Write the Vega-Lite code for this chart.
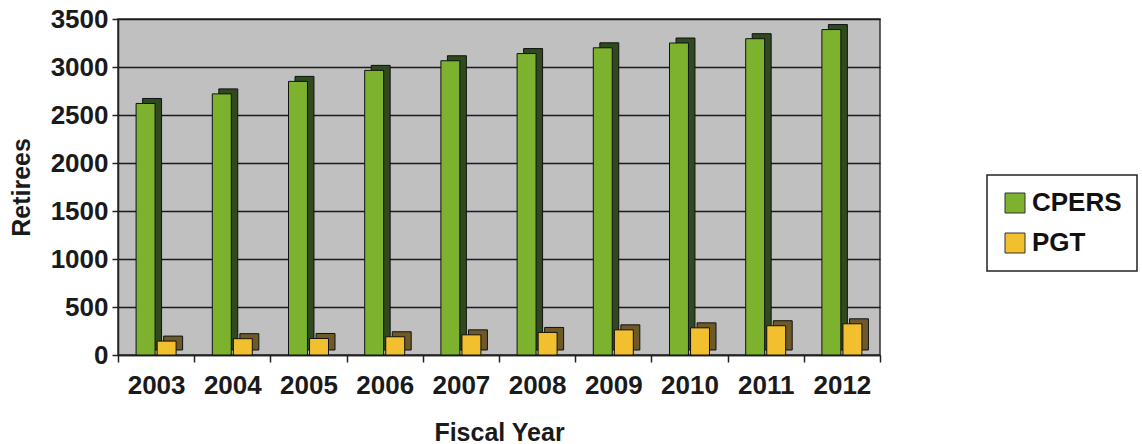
{
  "$schema": "https://vega.github.io/schema/vega-lite/v6.json",
  "width": 762,
  "height": 336,
  "autosize": "none",
  "padding": {"left": 118, "top": 19, "right": 262, "bottom": 89},
  "background": "white",
  "config": {
    "font": "Liberation Sans",
    "view": {"fill": "#c0c0c0", "stroke": "#333333", "strokeWidth": 1.5},
    "axis": {
      "labelFont": "Liberation Sans",
      "labelFontWeight": "bold",
      "labelFontSize": 26,
      "labelColor": "#1a1a1a",
      "titleFont": "Liberation Sans",
      "titleFontWeight": "bold",
      "titleFontSize": 25,
      "titleColor": "#1a1a1a",
      "domainColor": "#222222",
      "domainWidth": 1.5,
      "tickColor": "#222222",
      "tickWidth": 1.5
    }
  },
  "data": {
    "values": [
      {"year": "2003", "series": "CPERS", "value": 2620},
      {"year": "2004", "series": "CPERS", "value": 2720},
      {"year": "2005", "series": "CPERS", "value": 2850},
      {"year": "2006", "series": "CPERS", "value": 2965},
      {"year": "2007", "series": "CPERS", "value": 3065},
      {"year": "2008", "series": "CPERS", "value": 3140},
      {"year": "2009", "series": "CPERS", "value": 3200},
      {"year": "2010", "series": "CPERS", "value": 3250},
      {"year": "2011", "series": "CPERS", "value": 3295},
      {"year": "2012", "series": "CPERS", "value": 3390},
      {"year": "2003", "series": "PGT", "value": 145},
      {"year": "2004", "series": "PGT", "value": 170},
      {"year": "2005", "series": "PGT", "value": 172},
      {"year": "2006", "series": "PGT", "value": 190},
      {"year": "2007", "series": "PGT", "value": 210},
      {"year": "2008", "series": "PGT", "value": 235},
      {"year": "2009", "series": "PGT", "value": 262},
      {"year": "2010", "series": "PGT", "value": 283},
      {"year": "2011", "series": "PGT", "value": 305},
      {"year": "2012", "series": "PGT", "value": 325}
    ]
  },
  "encoding": {
    "x": {
      "field": "year",
      "type": "nominal",
      "scale": {"paddingInner": 0, "paddingOuter": 0},
      "axis": {
        "title": "Fiscal Year",
        "labelAngle": 0,
        "tickBand": "extent",
        "tickSize": 7,
        "labelPadding": 10,
        "titlePadding": 22
      }
    },
    "y": {
      "field": "value",
      "type": "quantitative",
      "scale": {"domain": [0, 3500], "nice": false},
      "axis": {
        "title": "Retirees",
        "format": "d",
        "values": [0, 500, 1000, 1500, 2000, 2500, 3000, 3500],
        "grid": true,
        "gridColor": "#1a1a1a",
        "gridWidth": 1.5,
        "tickSize": 6,
        "labelPadding": 4,
        "titlePadding": 16
      }
    }
  },
  "layer": [
    {
      "mark": {"type": "bar", "yOffset": -5, "stroke": "#111111", "strokeWidth": 1},
      "encoding": {
        "xOffset": {
          "field": "series",
          "type": "nominal",
          "scale": {"paddingInner": 0.1, "paddingOuter": 0.86, "align": 0.68}
        },
        "color": {
          "field": "series",
          "type": "nominal",
          "scale": {"domain": ["CPERS", "PGT"], "range": ["#2f4a1f", "#6e5a28"]},
          "legend": null
        }
      }
    },
    {
      "mark": {"type": "bar", "stroke": "#111111", "strokeWidth": 1},
      "encoding": {
        "xOffset": {
          "field": "series",
          "type": "nominal",
          "scale": {"paddingInner": 0.1, "paddingOuter": 0.86, "align": 0.5}
        },
        "color": {
          "field": "series",
          "type": "nominal",
          "scale": {"domain": ["CPERS", "PGT"], "range": ["#7db22e", "#f2bf2e"]},
          "legend": {
            "title": null,
            "orient": "none",
            "legendX": 869,
            "legendY": 156,
            "symbolType": "square",
            "symbolSize": 400,
            "symbolStrokeColor": "#333333",
            "symbolStrokeWidth": 1,
            "labelFont": "Liberation Sans",
            "labelFontSize": 26,
            "labelFontWeight": "bold",
            "labelColor": "#111111",
            "labelOffset": 4,
            "rowPadding": 14,
            "padding": 15,
            "strokeColor": "#222222",
            "fillColor": "white",
            "encode": {"legend": {"update": {"strokeWidth": {"value": 1.5}}}}
          }
        }
      }
    }
  ],
  "resolve": {"scale": {"color": "independent", "xOffset": "independent"}}
}
